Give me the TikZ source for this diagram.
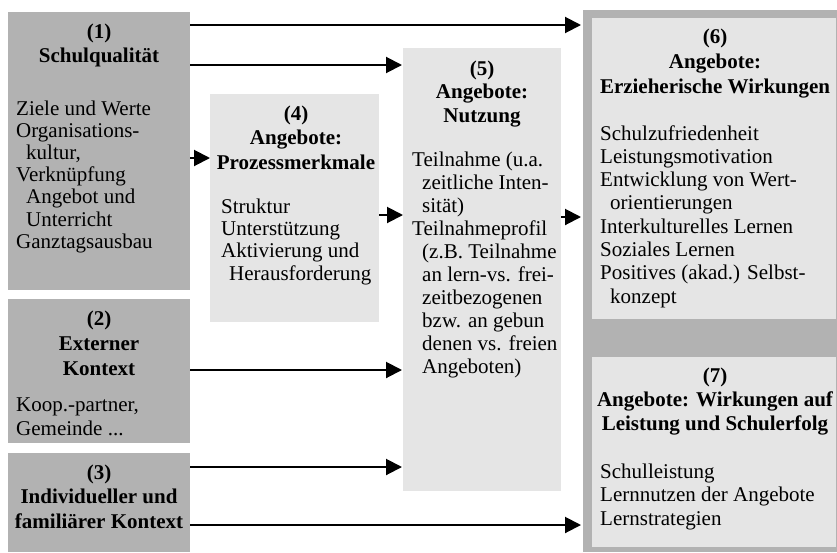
\documentclass[tikz,border=0pt]{standalone}
\usepackage{fontspec}
\setmainfont{Liberation Serif}
\usetikzlibrary{arrows.meta}
\definecolor{darkbox}{gray}{0.70}
\definecolor{lightbox}{gray}{0.90}
\tikzset{
  box/.style={rectangle, inner sep=0pt, outer sep=0pt, draw=none},
  darkfill/.style={box, fill=darkbox},
  lightfill/.style={box, fill=lightbox},
  ttl/.style={anchor=base, align=center, inner sep=0pt, font=\fontsize{21}{#1}\selectfont\bfseries},
  ttl/.default=24.5,
  bdy/.style={anchor=base west, align=left, inner sep=0pt, font=\fontsize{21}{#1}\selectfont},
  bdy/.default=23.3,
  arr/.style={line width=2pt, -{Triangle[length=16pt,width=16pt]}},
}
\newcommand{\ind}{\hspace*{10pt}}
\begin{document}
\begin{tikzpicture}[x=1pt,y=-1pt]
\useasboundingbox (0,0) rectangle (837,552);
% boxes
\node[darkfill, minimum width=182pt, minimum height=278pt] (b1) at (99,151) {};
\node[darkfill, minimum width=182pt, minimum height=144pt] (b2) at (99,371) {};
\node[darkfill, minimum width=182pt, minimum height=99pt] (b3) at (99,502.5) {};
\node[lightfill, minimum width=169pt, minimum height=228pt] (b4) at (294.5,208) {};
\node[lightfill, minimum width=158pt, minimum height=443pt] (b5) at (482,269.5) {};
\node[darkfill, minimum width=254pt, minimum height=542pt] (fr) at (710,281) {};
\node[lightfill, minimum width=244pt, minimum height=301pt] (b6) at (714,168.5) {};
\node[lightfill, minimum width=244pt, minimum height=190pt] (b7) at (714,452) {};
% titles (anchor = baseline of last line)
\node[ttl=23.5] (t1) at (99,62) {(1)\\Schulqualität};
\node[ttl=25] (t2) at (99,375) {(2)\\Externer\\Kontext};
\node[ttl=24.5] (t3) at (99,528) {(3)\\Individueller und\\familiärer Kontext};
\node[ttl=24.5] (t4) at (296,169) {(4)\\Angebote:\\Prozessmerkmale};
\node[ttl=23.5] (t5) at (482,122) {(5)\\Angebote:\\Nutzung};
\node[ttl=25] (t6) at (715,93) {(6)\\Angebote:\\Erzieherische Wirkungen};
\node[ttl=24] (t7) at (715,430) {(7)\\Angebote: Wirkungen auf\\Leistung und Schulerfolg};
% bodies (anchor = baseline of last line)
\node[bdy=22.2] (x1) at (16,248.2) {Ziele und Werte\\Organisations-\\\ind kultur,\\Verknüpfung\\\ind Angebot und\\\ind Unterricht\\Ganztagsausbau};
\node[bdy=23.3] (x2) at (16,435) {Koop.-partner,\\Gemeinde ...};
\node[bdy=22.4] (x4) at (221,280.2) {Struktur\\Unterstützung\\Aktivierung und\\\hspace*{8pt}Herausforderung};
\node[bdy=23] (x5) at (412,373) {Teilnahme (u.a.\\\ind zeitliche Inten-\\\ind sität)\\Teilnahmeprofil\\\ind (z.B. Teilnahme\\\ind an lern-vs. frei-\\\ind zeitbezogenen\\\ind bzw. an gebun\\\ind denen vs. freien\\\ind Angeboten)};
\node[bdy=23.3] (x6) at (600,303.1) {Schulzufriedenheit\\Leistungsmotivation\\Entwicklung von Wert-\\\ind orientierungen\\Interkulturelles Lernen\\Soziales Lernen\\Positives (akad.) Selbst-\\\ind konzept};
\node[bdy=23.5] (x7) at (600,525) {Schulleistung\\Lernnutzen der Angebote\\Lernstrategien};
% arrows
\draw[arr, shorten >=2pt] (b1.east |- 0,25) -- (fr.west |- 0,25);
\draw[arr, shorten >=1pt] (b1.east |- 0,65) -- (b5.west |- 0,65);
\draw[arr] (b1.east |- 0,158) -- (b4.west |- 0,158);
\draw[arr] (b4.east |- 0,215) -- (b5.west |- 0,215);
\draw[arr, shorten >=2pt] (b5.east |- 0,217) -- (fr.west |- 0,217);
\draw[arr, shorten >=1pt] (b2.east |- 0,370) -- (b5.west |- 0,370);
\draw[arr, shorten >=1pt] (b3.east |- 0,467) -- (b5.west |- 0,467);
\draw[arr, shorten >=2pt] (b3.east |- 0,525) -- (fr.west |- 0,525);
\end{tikzpicture}
\end{document}
